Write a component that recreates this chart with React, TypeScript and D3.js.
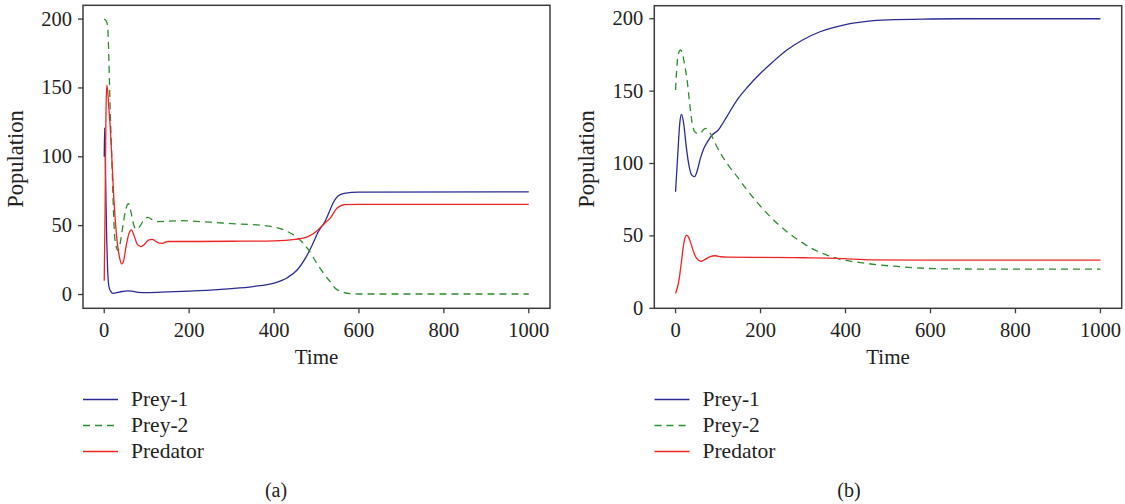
import React from "react";
import * as d3 from "d3";

// ---------- Panel (a) data ----------
const tA_prey1 = [0, 1, 2.5, 4, 6, 8, 11, 15, 21, 30, 42, 54, 65, 80, 100, 150, 200, 250, 300, 350, 400, 430, 455, 475, 490, 505, 520, 530, 540, 550, 565, 600, 1000];
const vA_prey1 = [100, 121, 100, 70, 38, 18, 6, 2.5, 0.9, 1.4, 2.2, 2.7, 2.4, 1.6, 1.4, 1.9, 2.5, 3.2, 4.3, 5.8, 8.3, 12, 18, 27, 36, 46, 53, 60, 67, 71.3, 73.5, 74.3, 74.5];

const tA_prey2 = [0, 4, 8, 11, 13, 16, 18.5, 21, 24, 28, 32.5, 38, 45, 51, 57, 63, 70, 76, 85, 94, 103, 115, 125, 180, 250, 300, 368, 400, 430, 460, 480, 500, 520, 532, 544, 560, 579, 600, 1000];
const vA_prey2 = [200, 199, 195, 170, 146, 115, 93, 68, 45, 35, 32, 38, 52, 62, 66, 60, 50, 47.4, 50, 54.5, 56, 54, 53, 53.6, 52.5, 51.5, 50.3, 49, 46, 40, 33, 23, 14, 9.4, 4.6, 2, 0.6, 0.4, 0.4];

const tA_pred = [0, 2, 4, 6, 8, 11, 15, 19, 23, 27, 31, 36, 41, 46, 52, 58, 64, 70, 77, 86, 95, 104, 113, 122, 130, 137, 145, 150, 200, 300, 400, 450, 480, 500, 520, 532, 548, 567, 600, 1000];
const vA_pred = [10, 60, 130, 152, 148, 135, 117, 92, 68, 50, 37, 27, 22.2, 25, 36, 44, 46.9, 43, 37, 34.8, 36.5, 39.5, 40.1, 38.5, 37.3, 37.2, 38.2, 38.5, 38.5, 38.7, 39, 40, 42, 46, 52, 55.3, 62.6, 65.3, 65.5, 65.5];

// ---------- Panel (b) data ----------
const tB_prey1 = [0, 5, 10, 14, 19, 25, 32, 38, 44.6, 50, 58, 66, 75, 86, 100, 106, 120, 145, 170, 200, 230, 262, 300, 340, 400, 450, 500, 600, 700, 1000];
const vB_prey1 = [80.5, 105, 128, 134, 128, 112, 98, 92, 90.9, 94, 103, 110, 115, 119.7, 123, 125.4, 132, 144, 153, 162.3, 170.5, 178.4, 185.5, 191, 196, 198.2, 199.2, 199.8, 200, 200];

const tB_prey2 = [0, 4, 8, 12, 17, 22, 27, 33, 39, 45, 52, 59, 66, 71, 78, 86, 95, 106, 125, 145, 165, 184, 200, 223, 262, 300, 325, 380, 450, 530, 622, 800, 1000];
const vB_prey2 = [150.8, 170, 177, 178.4, 175, 167, 158, 142, 128, 122, 120.8, 121, 123.5, 124.3, 122.5, 118.5, 113, 107, 98.5, 90.9, 83, 76, 70.5, 63.3, 52.9, 45, 40.7, 34.5, 31, 28.7, 27.3, 27, 27];

const tB_pred = [0, 4, 7.8, 13, 18, 22, 26, 31, 38, 45, 52, 61, 70, 80, 94, 107, 121, 200, 300, 380, 465, 600, 1000];
const vB_pred = [10.3, 14, 19, 30, 42, 48.5, 50.6, 49, 43, 37, 33.7, 32.5, 33.8, 35.5, 36.3, 35.6, 35.4, 35.2, 34.9, 34.5, 33.4, 33.3, 33.3];

// ---------- Axes / labels ----------
const xTicks = [0, 200, 400, 600, 800, 1000];
const yTicks = [0, 50, 100, 150, 200];
const seriesNames = ["Prey-1", "Prey-2", "Predator"];
const panelLabels = ["(a)", "(b)"];
const xTitle = "Time";
const yTitle = "Population";

const COLORS = ["#2b2b95", "#2e8b2e", "#f02424"];
const DASH = [null, "7,5", null];
const FONT = "'Liberation Serif', 'Times New Roman', serif";
const AXIS = "#3c3c3c";

type PanelCfg = {
  x0: number; x1: number; top: number; bottom: number;
  yDomain: [number, number];
  series: { t: number[]; v: number[] }[];
  label: string;
  legendX: number; legendTextX: number; labelX: number; yTitleX: number;
};

const panels: PanelCfg[] = [
  {
    x0: 83, x1: 550, top: 5.3, bottom: 308.3, yDomain: [-10, 210],
    series: [{ t: tA_prey1, v: vA_prey1 }, { t: tA_prey2, v: vA_prey2 }, { t: tA_pred, v: vA_pred }],
    label: panelLabels[0], legendX: 83, legendTextX: 131, labelX: 276, yTitleX: 23,
  },
  {
    x0: 654.3, x1: 1121.7, top: 5.7, bottom: 308.3, yDomain: [0, 209],
    series: [{ t: tB_prey1, v: vB_prey1 }, { t: tB_prey2, v: vB_prey2 }, { t: tB_pred, v: vB_pred }],
    label: panelLabels[1], legendX: 654.5, legendTextX: 702.5, labelX: 849, yTitleX: 594,
  },
];

function Panel({ cfg }: { cfg: PanelCfg }) {
  const x = d3.scaleLinear().domain([-50, 1050]).range([cfg.x0, cfg.x1]);
  const y = d3.scaleLinear().domain(cfg.yDomain).range([cfg.bottom, cfg.top]);
  const line = d3
    .line<[number, number]>()
    .x((d) => x(d[0]))
    .y((d) => y(d[1]))
    .curve(d3.curveMonotoneX);
  const legendY = [399.5, 425.5, 451.5];
  return (
    <g>
      {cfg.series.map((s, i) => (
        <path
          key={i}
          d={line(s.t.map((t, k) => [t, s.v[k]] as [number, number])) || ""}
          fill="none"
          stroke={COLORS[i]}
          strokeWidth={1.3}
          strokeDasharray={DASH[i] || undefined}
        />
      ))}
      <rect x={cfg.x0} y={cfg.top} width={cfg.x1 - cfg.x0} height={cfg.bottom - cfg.top}
        fill="none" stroke={AXIS} strokeWidth={1.5} />
      {xTicks.map((t) => (
        <g key={"x" + t}>
          <line x1={x(t)} x2={x(t)} y1={cfg.bottom} y2={cfg.bottom + 5} stroke={AXIS} strokeWidth={1.3} />
          <text x={x(t)} y={cfg.bottom + 29} textAnchor="middle" fontFamily={FONT} fontSize={20.5} fill="#222">{t}</text>
        </g>
      ))}
      {yTicks.map((t) => (
        <g key={"y" + t}>
          <line x1={cfg.x0 - 5} x2={cfg.x0} y1={y(t)} y2={y(t)} stroke={AXIS} strokeWidth={1.3} />
          <text x={cfg.x0 - 11} y={y(t) + 6.5} textAnchor="end" fontFamily={FONT} fontSize={20.5} fill="#222">{t}</text>
        </g>
      ))}
      <text x={(cfg.x0 + cfg.x1) / 2} y={364} textAnchor="middle" fontFamily={FONT} fontSize={21} fill="#222">{xTitle}</text>
      <text transform={`translate(${cfg.yTitleX},159) rotate(-90)`} textAnchor="middle" fontFamily={FONT} fontSize={22.5} fill="#222">{yTitle}</text>
      {seriesNames.map((n, i) => (
        <g key={n}>
          <line x1={cfg.legendX} x2={cfg.legendX + 35} y1={legendY[i]} y2={legendY[i]}
            stroke={COLORS[i]} strokeWidth={1.3} strokeDasharray={DASH[i] || undefined} />
          <text x={cfg.legendTextX} y={legendY[i] + 6.5} fontFamily={FONT} fontSize={21.5} fill="#222">{n}</text>
        </g>
      ))}
      <text x={cfg.labelX} y={497} textAnchor="middle" fontFamily={FONT} fontSize={20} fill="#222">{cfg.label}</text>
    </g>
  );
}

export default function App() {
  return (
    <svg width={1125} height={504} style={{ position: "absolute", left: 0, top: 0, background: "#fff" }}>
      <rect width={1125} height={504} fill="#fff" />
      {panels.map((p, i) => (
        <Panel key={i} cfg={p} />
      ))}
    </svg>
  );
}
